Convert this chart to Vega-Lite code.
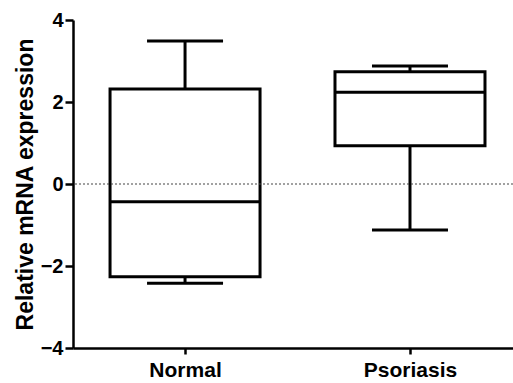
{
  "$schema": "https://vega.github.io/schema/vega-lite/v6.json",
  "width": 440,
  "height": 328,
  "autosize": "none",
  "padding": {"left": 73, "top": 20, "right": 0, "bottom": 35},
  "background": "white",
  "config": {
    "view": {"stroke": null},
    "axis": {
      "grid": false,
      "domainColor": "black",
      "domainWidth": 2.5,
      "tickColor": "black",
      "tickWidth": 2.5,
      "labelColor": "black",
      "labelFont": "Liberation Sans",
      "labelFontWeight": "bold",
      "labelFontSize": 20,
      "titleColor": "black",
      "titleFont": "Liberation Sans"
    }
  },
  "data": {
    "values": [
      {"group": "Normal", "lower": -2.42, "q1": -2.26, "median": -0.43, "q3": 2.32, "upper": 3.49},
      {"group": "Psoriasis", "lower": -1.12, "q1": 0.93, "median": 2.24, "q3": 2.74, "upper": 2.88}
    ]
  },
  "layer": [
    {
      "mark": {"type": "rule", "color": "black", "strokeWidth": 3},
      "encoding": {
        "x": {"field": "group", "type": "nominal", "sort": ["Normal", "Psoriasis"], "scale": {"type": "point", "padding": 0.478, "align": 0.521},
          "axis": {"title": null, "labelAngle": 0, "tickSize": 6, "labelPadding": 5, "labelFontSize": 21}},
        "y": {"field": "lower", "type": "quantitative", "scale": {"domain": [-4, 4], "nice": false, "zero": false},
          "axis": {"title": "Relative mRNA expression", "values": [-4, -2, 0, 2, 4], "tickSize": 8, "labelPadding": 2, "titleFontSize": 23, "titleFontWeight": "bold", "titlePadding": 3}},
        "y2": {"field": "q1"}
      }
    },
    {
      "mark": {"type": "rule", "color": "black", "strokeWidth": 3},
      "encoding": {
        "x": {"field": "group", "type": "nominal", "sort": ["Normal", "Psoriasis"]},
        "y": {"field": "q3", "type": "quantitative"},
        "y2": {"field": "upper"}
      }
    },
    {
      "mark": {"type": "bar", "size": 150, "fill": "white", "stroke": "black", "strokeWidth": 3},
      "encoding": {
        "x": {"field": "group", "type": "nominal", "sort": ["Normal", "Psoriasis"]},
        "y": {"field": "q1", "type": "quantitative"},
        "y2": {"field": "q3"}
      }
    },
    {
      "mark": {"type": "tick", "size": 150, "thickness": 3, "color": "black", "opacity": 1},
      "encoding": {
        "x": {"field": "group", "type": "nominal", "sort": ["Normal", "Psoriasis"]},
        "y": {"field": "median", "type": "quantitative"}
      }
    },
    {
      "mark": {"type": "tick", "size": 76, "thickness": 3, "color": "black", "opacity": 1},
      "encoding": {
        "x": {"field": "group", "type": "nominal", "sort": ["Normal", "Psoriasis"]},
        "y": {"field": "lower", "type": "quantitative"}
      }
    },
    {
      "mark": {"type": "tick", "size": 76, "thickness": 3, "color": "black", "opacity": 1},
      "encoding": {
        "x": {"field": "group", "type": "nominal", "sort": ["Normal", "Psoriasis"]},
        "y": {"field": "upper", "type": "quantitative"}
      }
    },
    {
      "data": {"values": [{"reference": 0}]},
      "mark": {"type": "rule", "color": "#444444", "strokeWidth": 1.2, "strokeDash": [2, 2]},
      "encoding": {
        "y": {"field": "reference", "type": "quantitative"}
      }
    }
  ]
}
